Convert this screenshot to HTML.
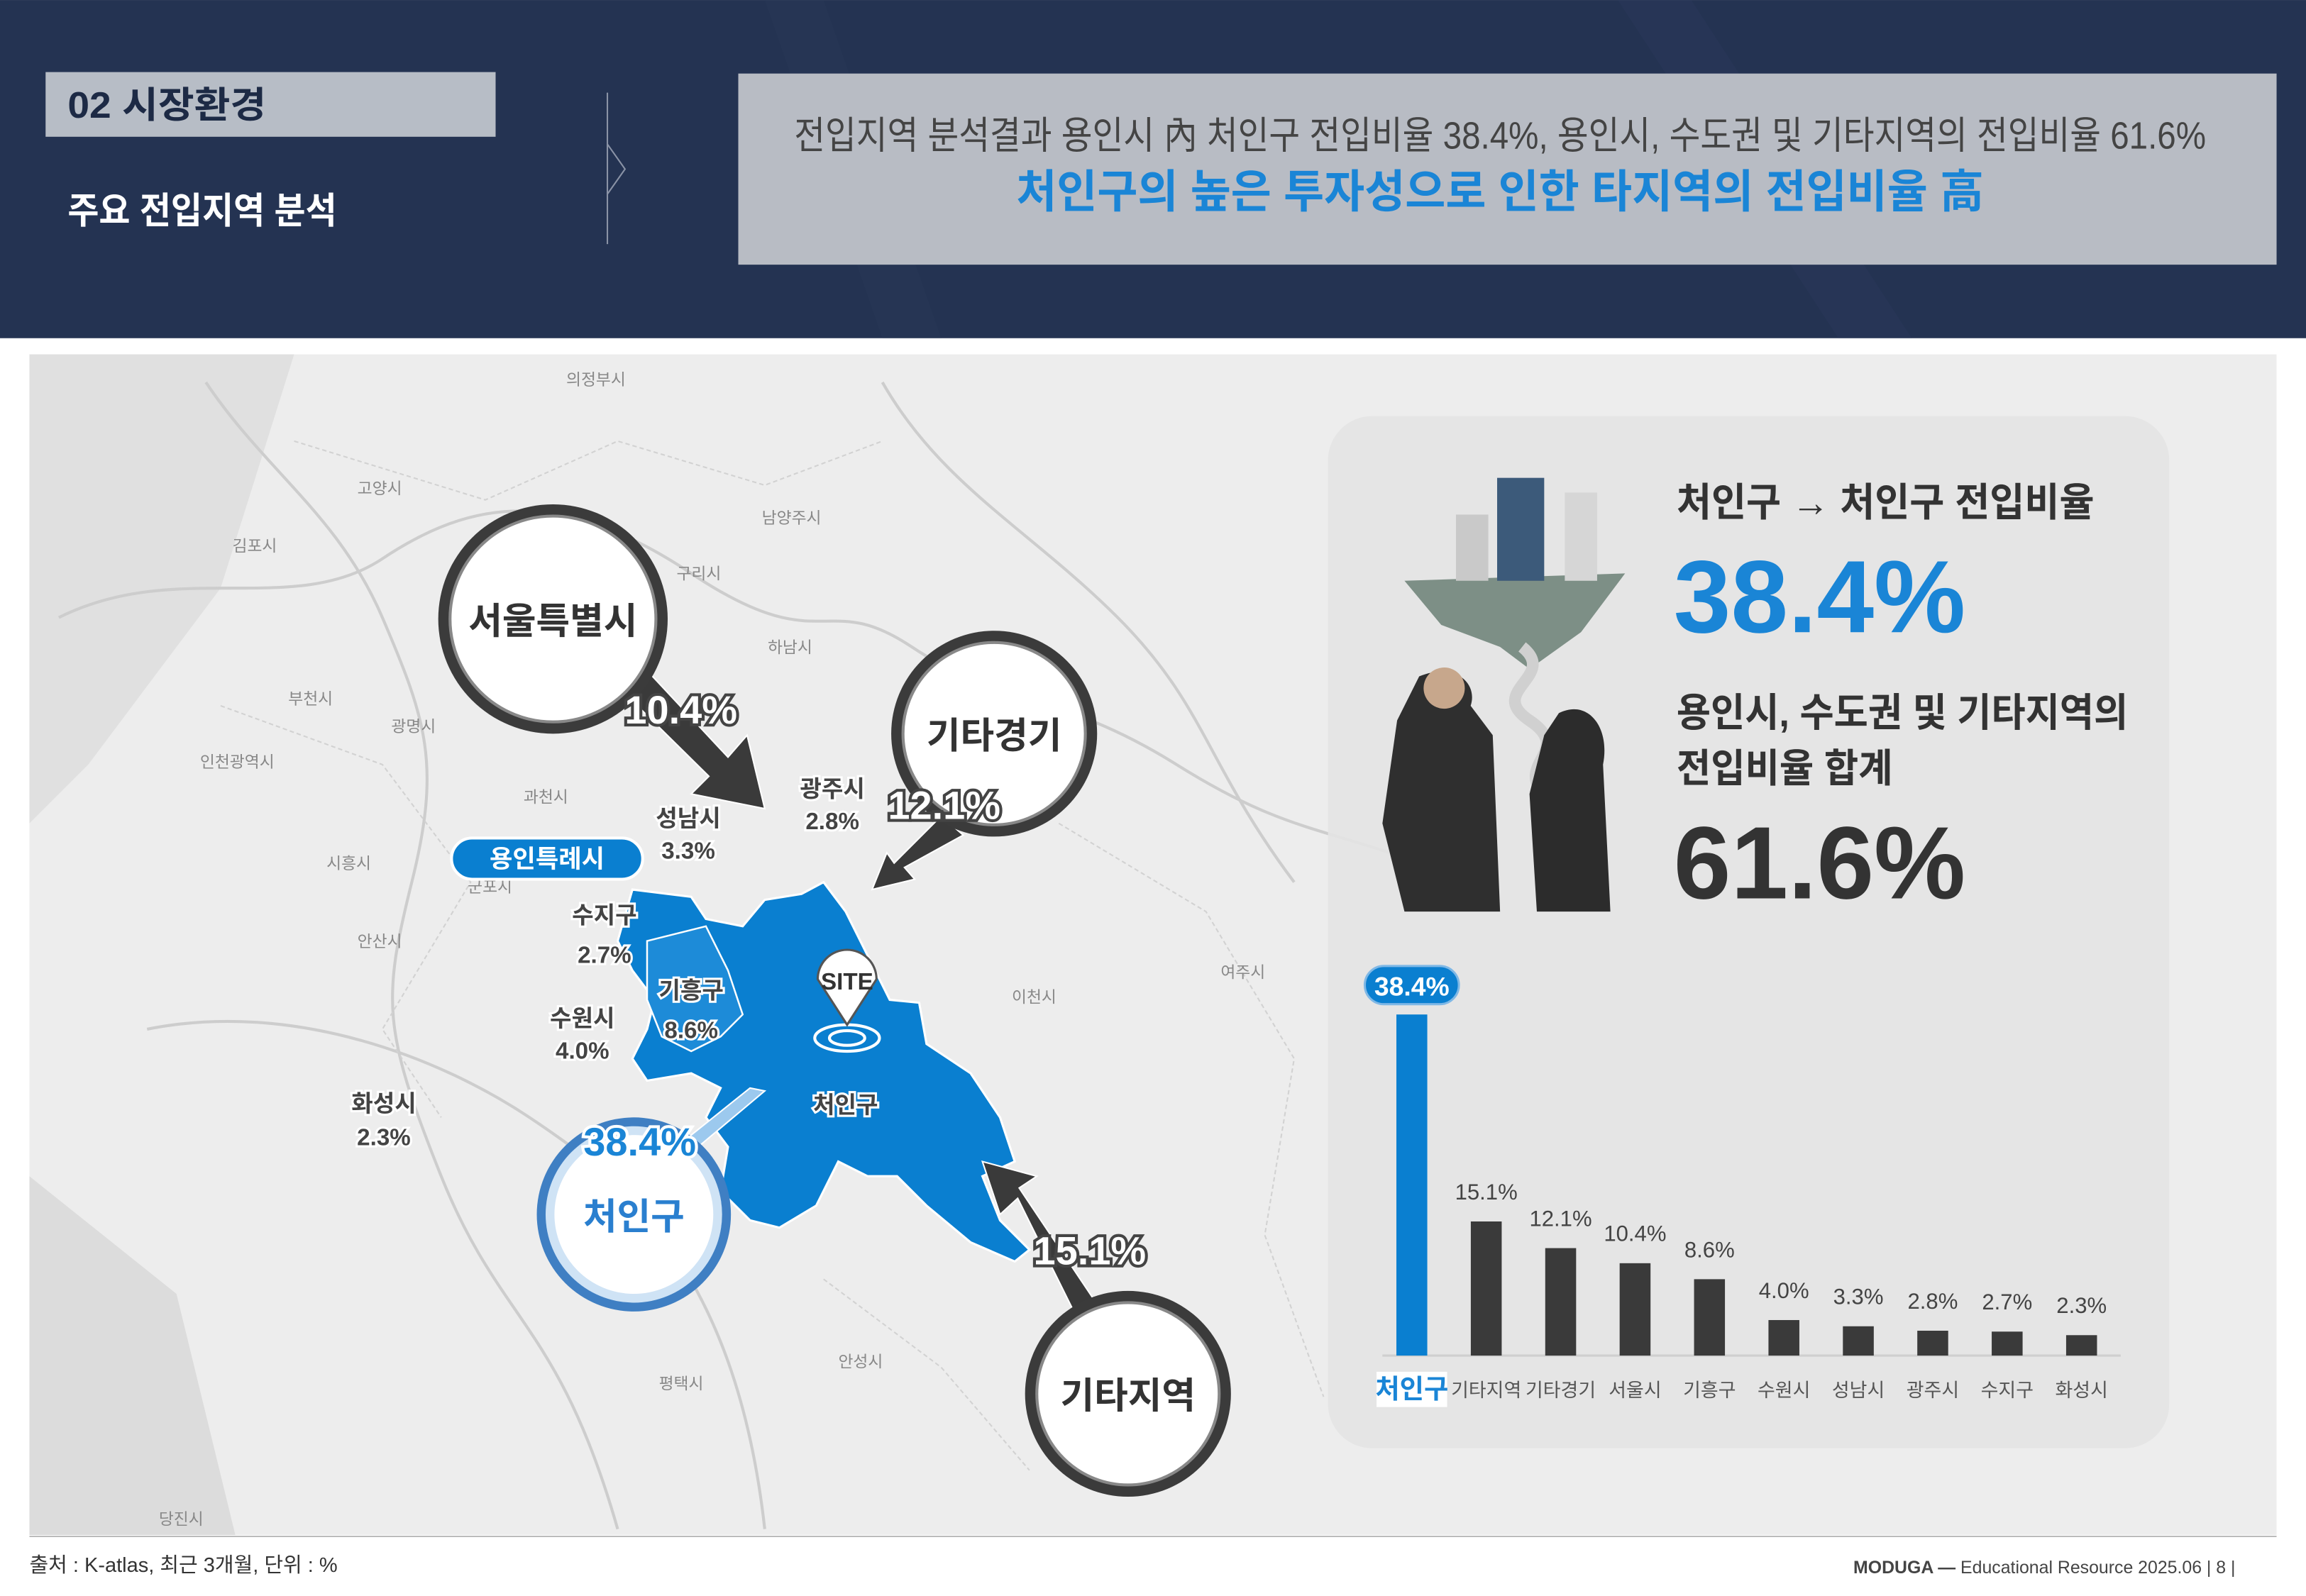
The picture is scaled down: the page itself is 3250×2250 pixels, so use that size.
<!DOCTYPE html>
<html><head><meta charset="utf-8">
<style>
html,body{margin:0;padding:0;background:#fff;}
svg{display:block;font-family:"Liberation Sans","Noto Sans CJK KR",sans-serif;}
</style></head>
<body>
<svg id="page" width="3250" height="2250" viewBox="0 0 1568 1085.5" xmlns="http://www.w3.org/2000/svg">
  <rect x="0" y="0" width="1568" height="1085.5" fill="#ffffff"/>
  <!-- header -->
  <g>
    <rect x="0" y="0" width="1568" height="230" fill="#243352"/>
    <path d="M520 0 L600 230 L640 230 L560 0Z" fill="#2a3a5b" opacity="0.3"/>
    <path d="M1100 0 L1250 230 L1300 230 L1150 0Z" fill="#2d3d5f" opacity="0.3"/>
    <rect x="31" y="49" width="306" height="44" fill="#b7bdc6"/>
    <text x="46" y="80" font-size="25" font-weight="bold" fill="#1d2a45" textLength="135" lengthAdjust="spacingAndGlyphs">02  시장환경</text>
    <text x="46" y="152" font-size="25" font-weight="bold" fill="#ffffff" textLength="183" lengthAdjust="spacingAndGlyphs">주요 전입지역 분석</text>
    <line x1="413" y1="63" x2="413" y2="166" stroke="#8a93a6" stroke-width="1"/>
    <polyline points="413,98 425,115 413,132" fill="none" stroke="#8a93a6" stroke-width="1"/>
    <rect x="502" y="50" width="1046" height="130" fill="#b8bcc4"/>
    <text x="1020" y="101" font-size="26" fill="#444" text-anchor="middle" textLength="960" lengthAdjust="spacingAndGlyphs">전입지역 분석결과 용인시 內 처인구 전입비율 38.4%, 용인시, 수도권 및 기타지역의 전입비율 61.6%</text>
    <text x="1020" y="141" font-size="31" font-weight="bold" fill="#1a85d6" text-anchor="middle" textLength="658" lengthAdjust="spacingAndGlyphs">처인구의 높은 투자성으로 인한 타지역의 전입비율 高</text>
  </g>

  <!-- map -->
  <g>
    <rect x="20" y="241" width="1528" height="803" fill="#ededed"/>
    <path d="M20 241 L200 241 L150 400 L60 520 L20 560Z" fill="#e0e0e0"/>
    <path d="M20 800 L120 880 L160 1044 L20 1044Z" fill="#dcdcdc"/>
    <g fill="none" stroke="#cdcdcd" stroke-width="2">
      <path d="M40 420 C120 380 200 420 260 380 S380 330 470 390 S560 400 620 440 S720 470 800 520 S900 560 1000 600"/>
      <path d="M140 260 C180 320 230 350 260 420 S300 520 280 600 S260 700 300 800 S380 900 420 1040"/>
      <path d="M600 260 C640 330 700 360 760 420 S820 520 880 600"/>
      <path d="M100 700 C200 680 300 720 360 760 S500 860 520 1040"/>
    </g>
    <g fill="none" stroke="#d2d2d2" stroke-width="1" stroke-dasharray="3 2">
      <path d="M200 300 L330 340 L420 300 L520 330 L600 300"/>
      <path d="M150 480 L260 520 L320 600 L260 700 L300 760"/>
      <path d="M720 560 L820 620 L880 720 L860 840 L900 950"/>
      <path d="M560 870 L640 930 L700 1000"/>
    </g>
    <g font-size="11" fill="#888">
      <text x="385" y="262">의정부시</text><text x="243" y="336">고양시</text><text x="158" y="375">김포시</text>
      <text x="518" y="356">남양주시</text><text x="460" y="394">구리시</text><text x="522" y="444">하남시</text>
      <text x="196" y="479">부천시</text><text x="266" y="498">광명시</text><text x="136" y="522">인천광역시</text>
      <text x="356" y="546">과천시</text><text x="222" y="591">시흥시</text><text x="318" y="607">군포시</text>
      <text x="243" y="644">안산시</text><text x="688" y="682">이천시</text><text x="830" y="665">여주시</text>
      <text x="448" y="945">평택시</text><text x="570" y="930">안성시</text><text x="108" y="1037">당진시</text>
    </g>
    <path d="M430 605 L470 610 L480 625 L505 630 L520 612 L545 608 L560 600 L575 620 L590 650 L605 680 L625 682 L630 710 L660 730 L680 760 L690 790 L668 800 L680 830 L700 850 L690 858 L660 845 L630 820 L610 800 L590 800 L570 790 L555 820 L530 835 L510 830 L490 810 L495 780 L480 760 L490 740 L470 730 L440 735 L430 720 L440 700 L445 680 L430 660 L420 640 Z" fill="#0a7fd0" stroke="#ffffff" stroke-width="1.5"/>
    <path d="M440 640 L480 630 L495 660 L505 690 L490 705 L470 715 L450 705 L440 680Z" fill="#1d8bd8" stroke="#ffffff" stroke-width="1.2"/>
    <rect x="307" y="570" width="130" height="28" rx="14" fill="#0a7fd0" stroke="#fff" stroke-width="2"/>
    <text x="372" y="590" font-size="17" font-weight="bold" fill="#fff" text-anchor="middle">용인특례시</text>
    <g>
      <ellipse cx="576" cy="706" rx="22" ry="9" fill="none" stroke="#fff" stroke-width="2"/>
      <ellipse cx="576" cy="706" rx="12" ry="5" fill="none" stroke="#fff" stroke-width="2"/>
      <path d="M556 666 A20 20 0 1 1 596 666 L576 697 Z" fill="#fff" stroke="#555" stroke-width="1.5"/>
      <text x="576" y="673" font-size="16" font-weight="bold" fill="#333" text-anchor="middle">SITE</text>
    </g>
    <g font-size="16" font-weight="bold" fill="#444" stroke="#fff" stroke-width="3" paint-order="stroke" text-anchor="middle">
      <text x="575" y="757">처인구</text>
      <text x="411" y="628">수지구</text><text x="411" y="655">2.7%</text>
      <text x="470" y="679">기흥구</text><text x="470" y="706">8.6%</text>
      <text x="396" y="698">수원시</text><text x="396" y="720">4.0%</text>
      <text x="261" y="756">화성시</text><text x="261" y="779">2.3%</text>
      <text x="468" y="562">성남시</text><text x="468" y="584">3.3%</text>
      <text x="566" y="542">광주시</text><text x="566" y="564">2.8%</text>
    </g>
    <g fill="#3a3a3a" stroke="#ffffff" stroke-width="1">
      <path d="M405 452 L425 440 L495 515 L508 500 L520 550 L470 540 L482 528Z"/>
      <path d="M640 555 L655 568 L615 590 L622 598 L593 605 L603 580 L608 587Z"/>
      <path d="M768 920 L748 928 L692 815 L680 826 L668 790 L705 800 L693 808Z"/>
      <path d="M460 780 L510 740 L520 742 L470 784Z" fill="#9cc9ee"/>
    </g>
    <g>
      <circle cx="376" cy="421" r="78" fill="#3b3b3b"/>
      <circle cx="376" cy="421" r="70" fill="#fff" stroke="#888" stroke-width="2"/>
      <text x="376" y="431" font-size="25" font-weight="bold" fill="#333" text-anchor="middle">서울특별시</text>
    </g>
    <g>
      <circle cx="676" cy="499" r="70" fill="#3b3b3b"/>
      <circle cx="676" cy="499" r="62" fill="#fff" stroke="#888" stroke-width="2"/>
      <text x="676" y="509" font-size="25" font-weight="bold" fill="#333" text-anchor="middle">기타경기</text>
    </g>
    <g>
      <circle cx="431" cy="826" r="66" fill="#3f7fc3"/>
      <circle cx="431" cy="826" r="60" fill="#cfe3f5"/>
      <circle cx="431" cy="826" r="54" fill="#fff"/>
      <text x="431" y="836" font-size="25" font-weight="bold" fill="#2a7fcf" text-anchor="middle">처인구</text>
    </g>
    <g>
      <circle cx="767" cy="948" r="70" fill="#3b3b3b"/>
      <circle cx="767" cy="948" r="62" fill="#fff" stroke="#888" stroke-width="2"/>
      <text x="767" y="958" font-size="25" font-weight="bold" fill="#333" text-anchor="middle">기타지역</text>
    </g>
    <g font-size="27" font-weight="bold" stroke-width="4" paint-order="stroke" text-anchor="middle">
      <text x="463" y="492" fill="#fff" stroke="#444">10.4%</text>
      <text x="642" y="557" fill="#fff" stroke="#444">12.1%</text>
      <text x="741" y="860" fill="#fff" stroke="#444">15.1%</text>
      <text x="435" y="786" fill="#1a85d6" stroke="#fff">38.4%</text>
    </g>
  </g>

  <!-- right panel -->
  <g>
    <rect x="903" y="283" width="572" height="702" rx="30" fill="#e4e4e4" opacity="0.92"/>
    <g>
      <path d="M955 395 L1105 390 L1075 430 L1040 455 L1020 440 L980 425Z" fill="#7d8f86"/>
      <rect x="1018" y="325" width="32" height="70" fill="#3c5a7a"/>
      <rect x="990" y="350" width="22" height="45" fill="#c9c9c9"/>
      <rect x="1064" y="335" width="22" height="60" fill="#d6d6d6"/>
      <path d="M1035 440 C1060 460 1010 470 1040 490 C1070 510 1030 520 1050 540" stroke="#d0d0d0" stroke-width="8" fill="none"/>
      <path d="M965 460 C990 450 1005 465 1000 480 L1015 500 L1020 620 L955 620 L940 560 L950 490Z" fill="#2f2f2f"/>
      <circle cx="982" cy="468" r="14" fill="#c7a78c"/>
      <path d="M1060 485 C1080 475 1095 495 1090 520 L1095 620 L1045 620 L1040 540 L1050 500Z" fill="#2c2c2c"/>
    </g>
    <text x="1140" y="351" font-size="27" font-weight="bold" fill="#333" textLength="284" lengthAdjust="spacingAndGlyphs">처인구 → 처인구 전입비율</text>
    <text x="1138" y="430" font-size="70" font-weight="bold" fill="#1a85d6">38.4%</text>
    <text x="1140" y="494" font-size="27" font-weight="bold" fill="#333" textLength="307" lengthAdjust="spacingAndGlyphs">용인시, 수도권 및 기타지역의</text>
    <text x="1140" y="532" font-size="27" font-weight="bold" fill="#333" textLength="147" lengthAdjust="spacingAndGlyphs">전입비율 합계</text>
    <text x="1138" y="611" font-size="70" font-weight="bold" fill="#333">61.6%</text>
    <g id="bars"></g>
  </g>

  <line x1="20" y1="1045" x2="1548" y2="1045" stroke="#bbb" stroke-width="1"/>
  <text x="20" y="1069" font-size="14" fill="#333">출처 : K-atlas, 최근 3개월, 단위 : %</text>
  <text x="1520" y="1070" font-size="12" fill="#444" text-anchor="end"><tspan font-weight="bold">MODUGA — </tspan>Educational Resource 2025.06  | 8 |</text>
</svg>
<script>
const categories = ["처인구","기타지역","기타경기","서울시","기흥구","수원시","성남시","광주시","수지구","화성시"];
const values = [38.4,15.1,12.1,10.4,8.6,4.0,3.3,2.8,2.7,2.3];
const valueLabels = ["38.4%","15.1%","12.1%","10.4%","8.6%","4.0%","3.3%","2.8%","2.7%","2.3%"];

const NS = "http://www.w3.org/2000/svg";
const g = document.getElementById("bars");
const baseY = 922, pxPer = 232/38.4, x0 = 960, step = 50.6, bw = 21;
function xScale(i){ return x0 + i*step; }
function yScale(v){ return baseY - v*pxPer; }
function mk(tag, attrs){ const e=document.createElementNS(NS,tag); for(const k in attrs) e.setAttribute(k,attrs[k]); return e; }

const axis = mk("line",{x1:940,y1:baseY,x2:1442,y2:baseY,stroke:"#cfcfcf","stroke-width":1.5});


g.appendChild(axis);

categories.forEach((c,i)=>{
  const cx = xScale(i), top = yScale(values[i]);
  const first = i===0;
  const bar = mk("rect",{x:cx-bw/2,y:top,width:bw,height:baseY-top,fill:first?"#0a7fd0":"#3a3a3a"});
  
  
  g.appendChild(bar);
  if(first){
    const pill = mk("rect",{x:cx-32,y:top-33,width:64,height:26,rx:13,fill:"#0a7fd0",stroke:"#7fb8e6","stroke-width":1.5});
    
    
    g.appendChild(pill);
    const t = mk("text",{x:cx,y:top-13,"font-size":18,"font-weight":"bold",fill:"#fff","text-anchor":"middle"});
    t.textContent = valueLabels[i];
    
    
    g.appendChild(t);
    const bg = mk("rect",{x:cx-24,y:933,width:48,height:24,fill:"#fff"});
    
    
    g.appendChild(bg);
  } else {
    const t = mk("text",{x:cx,y:top-15,"font-size":15,fill:"#444","text-anchor":"middle"});
    t.textContent = valueLabels[i];
    
    
    g.appendChild(t);
  }
  const lab = mk("text",{x:cx,y:first?951:950,"font-size":first?18:13,"font-weight":first?"bold":"normal",fill:first?"#1a85d6":"#555","text-anchor":"middle"});
  lab.textContent = c;
  
  
  g.appendChild(lab);
});
</script>
</body></html>
